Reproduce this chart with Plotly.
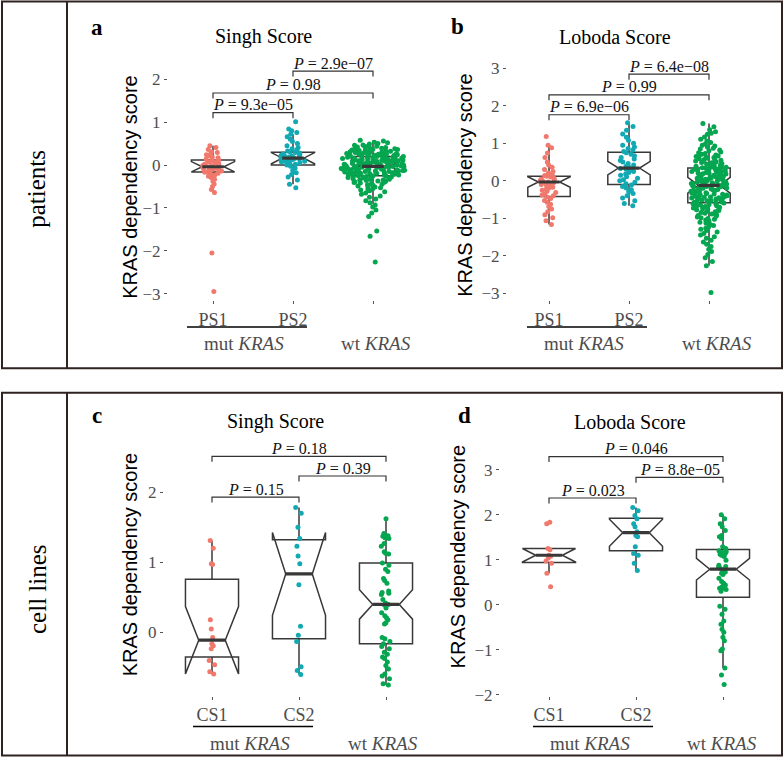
import plotly.graph_objects as go

W, H = 784, 767

# ---------------- text / categories ----------------
cats_patients = ["PS1", "PS2", ""]
cats_cells = ["CS1", "CS2", ""]
group_mut = "mut <i>KRAS</i>"
group_wt = "wt <i>KRAS</i>"
titles = ["Singh Score", "Loboda Score", "Singh Score", "Loboda Score"]
letters = ["a", "b", "c", "d"]
row_labels = ["patients", "cell lines"]
y_title = "KRAS dependency score"

# ---------------- point data ----------------
ps1_singh = [0.45, 0.41, 0.36, 0.31, 0.29, 0.26, 0.24, 0.21, 0.19, 0.17, 0.14, 0.12, 0.11, 0.09,
             0.08, 0.06, 0.05, 0.03, 0.02, 0.01, -0.01, -0.02, -0.03, -0.04, -0.05, -0.05, -0.06,
             -0.07, -0.08, -0.09, -0.10, -0.11, -0.12, -0.13, -0.14, -0.16, -0.17, -0.19, -0.21,
             -0.23, -0.26, -0.29, -0.33, -0.38, -0.44, -0.50, -0.57, -0.64, -2.05, -2.95]
ps2_singh = [1.01, 0.84, 0.80, 0.76, 0.72, 0.66, 0.60, 0.55, 0.50, 0.45, 0.41, 0.38, 0.35, 0.33,
             0.31, 0.29, 0.28, 0.26, 0.25, 0.23, 0.22, 0.21, 0.20, 0.19, 0.18, 0.17, 0.16, 0.15,
             0.14, 0.13, 0.12, 0.11, 0.10, 0.09, 0.08, 0.07, 0.05, 0.04, 0.02, 0.00, -0.03, -0.07,
             -0.12, -0.18, -0.22, -0.28, -0.35, -0.45, -0.53]
wt_singh = [0.58, 0.56, 0.53, 0.52, 0.50, 0.49, 0.47, 0.46, 0.45, 0.44, 0.43, 0.42, 0.41, 0.40,
            0.39, 0.38, 0.38, 0.37, 0.36, 0.35, 0.35, 0.34, 0.33, 0.33, 0.32, 0.31, 0.31, 0.30,
            0.29, 0.29, 0.28, 0.28, 0.27, 0.27, 0.26, 0.26, 0.25, 0.25, 0.24, 0.24, 0.23, 0.23,
            0.22, 0.22, 0.21, 0.21, 0.20, 0.20, 0.19, 0.19, 0.19, 0.18, 0.18, 0.17, 0.17, 0.16,
            0.16, 0.16, 0.15, 0.15, 0.14, 0.14, 0.13, 0.13, 0.13, 0.12, 0.12, 0.11, 0.11, 0.11,
            0.10, 0.10, 0.09, 0.09, 0.09, 0.08, 0.08, 0.08, 0.07, 0.07, 0.06, 0.06, 0.06, 0.05,
            0.05, 0.05, 0.04, 0.04, 0.04, 0.03, 0.03, 0.02, 0.02, 0.02, 0.01, 0.01, 0.00, 0.00,
            -0.01, -0.01, -0.01, -0.02, -0.02, -0.03, -0.03, -0.03, -0.04, -0.04, -0.05, -0.05,
            -0.05, -0.06, -0.06, -0.07, -0.07, -0.07, -0.08, -0.08, -0.08, -0.09, -0.09, -0.10,
            -0.10, -0.10, -0.11, -0.11, -0.12, -0.12, -0.13, -0.13, -0.14, -0.14, -0.15, -0.15,
            -0.16, -0.16, -0.17, -0.17, -0.18, -0.18, -0.19, -0.19, -0.20, -0.20, -0.21, -0.21,
            -0.22, -0.23, -0.23, -0.24, -0.25, -0.25, -0.26, -0.27, -0.27, -0.28, -0.28, -0.29,
            -0.30, -0.30, -0.31, -0.32, -0.33, -0.34, -0.35, -0.35, -0.36, -0.37, -0.38, -0.39,
            -0.40, -0.41, -0.42, -0.44, -0.45, -0.46, -0.47, -0.49, -0.50, -0.51, -0.53, -0.55,
            -0.56, -0.58, -0.60, -0.62, -0.65, -0.68, -0.72, -0.75, -0.79, -0.83, -0.88, -0.93,
            -0.98, -1.05, -1.12, -1.20, -1.54, -1.66, -2.26]

ps1_loboda = [1.18, 0.95, 0.88, 0.74, 0.62, 0.50, 0.42, 0.36, 0.30, 0.25, 0.21, 0.17, 0.14, 0.12,
              0.10, 0.07, 0.05, 0.03, 0.01, -0.01, -0.03, -0.05, -0.06, -0.08, -0.10, -0.12,
              -0.14, -0.17, -0.19, -0.22, -0.25, -0.28, -0.31, -0.35, -0.38, -0.40, -0.43, -0.47,
              -0.52, -0.57, -0.62, -0.68, -0.75, -0.82, -0.90, -0.98, -1.06, -1.16]
ps2_loboda = [1.55, 1.45, 1.35, 1.25, 1.16, 1.08, 1.00, 0.95, 0.90, 0.86, 0.82, 0.78, 0.75, 0.71,
              0.67, 0.62, 0.58, 0.54, 0.50, 0.46, 0.42, 0.39, 0.36, 0.33, 0.31, 0.28, 0.25, 0.22,
              0.18, 0.15, 0.11, 0.07, 0.03, 0.00, -0.04, -0.08, -0.11, -0.15, -0.19, -0.24, -0.29,
              -0.34, -0.40, -0.46, -0.53, -0.60, -0.66]
wt_loboda = [1.53, 1.44, 1.36, 1.31, 1.27, 1.24, 1.17, 1.11, 1.06, 1.02, 0.98, 0.95, 0.93, 0.90,
             0.87, 0.85, 0.82, 0.80, 0.77, 0.75, 0.73, 0.71, 0.69, 0.68, 0.66, 0.65, 0.63, 0.62,
             0.60, 0.59, 0.57, 0.56, 0.55, 0.53, 0.52, 0.50, 0.49, 0.48, 0.46, 0.45, 0.44, 0.43,
             0.41, 0.40, 0.39, 0.38, 0.37, 0.36, 0.35, 0.34, 0.33, 0.32, 0.31, 0.30, 0.29, 0.28,
             0.27, 0.26, 0.25, 0.24, 0.23, 0.22, 0.21, 0.20, 0.19, 0.18, 0.17, 0.16, 0.15, 0.14,
             0.13, 0.12, 0.11, 0.10, 0.09, 0.08, 0.07, 0.07, 0.06, 0.05, 0.04, 0.03, 0.03, 0.02,
             0.01, 0.00, -0.01, -0.02, -0.03, -0.03, -0.04, -0.05, -0.06, -0.07, -0.08, -0.08,
             -0.09, -0.10, -0.11, -0.12, -0.13, -0.14, -0.15, -0.15, -0.16, -0.17, -0.18, -0.19,
             -0.20, -0.21, -0.22, -0.23, -0.24, -0.25, -0.26, -0.27, -0.28, -0.29, -0.30, -0.31,
             -0.32, -0.33, -0.34, -0.35, -0.36, -0.37, -0.38, -0.39, -0.40, -0.41, -0.42, -0.43,
             -0.44, -0.45, -0.46, -0.46, -0.47, -0.48, -0.49, -0.50, -0.51, -0.52, -0.53, -0.55,
             -0.56, -0.57, -0.58, -0.59, -0.61, -0.62, -0.63, -0.64, -0.66, -0.67, -0.68, -0.70,
             -0.71, -0.72, -0.74, -0.75, -0.76, -0.77, -0.79, -0.80, -0.82, -0.84, -0.86, -0.88,
             -0.90, -0.92, -0.94, -0.96, -0.98, -1.00, -1.02, -1.04, -1.07, -1.10, -1.13, -1.16,
             -1.19, -1.22, -1.26, -1.29, -1.32, -1.36, -1.40, -1.44, -1.49, -1.53, -1.58, -1.63,
             -1.69, -1.75, -1.82, -1.88, -1.96, -2.05, -2.15, -2.26, -2.97]

cs1_singh = [1.31, 1.20, 0.98, 0.97, 0.18, 0.05, -0.07, -0.16, -0.19, -0.23, -0.40, -0.46, -0.56, -0.59]
cs2_singh = [1.78, 1.70, 1.50, 1.34, 1.23, 1.09, 0.98, 0.68, 0.09, -0.04, -0.13, -0.49, -0.54, -0.60]
wt_cells_singh = [1.62, 1.41, 1.38, 1.37, 1.35, 1.34, 1.27, 1.23, 1.15, 1.13, 1.12, 0.99, 0.96, 0.90,
                  0.87, 0.77, 0.74, 0.70, 0.59, 0.57, 0.56, 0.54, 0.47, 0.42, 0.40, 0.39, 0.35, 0.28,
                  0.24, 0.21, 0.18, 0.14, 0.12, -0.07, -0.09, -0.13, -0.16, -0.20, -0.23, -0.28,
                  -0.31, -0.35, -0.37, -0.42, -0.47, -0.52, -0.59, -0.62, -0.66, -0.73, -0.75]

cs1_loboda = [1.83, 1.80, 1.25, 1.22, 1.10, 1.08, 1.04, 0.97, 0.92, 0.70, 0.40]
cs2_loboda = [2.16, 2.09, 1.98, 1.91, 1.80, 1.73, 1.62, 1.54, 1.51, 1.29, 1.14, 1.10, 0.92, 0.76]
wt_cells_loboda = [2.00, 1.91, 1.80, 1.73, 1.65, 1.54, 1.51, 1.47, 1.29, 1.25, 1.20, 1.18, 1.16, 1.14,
                   1.12, 1.10, 1.07, 0.99, 0.88, 0.85, 0.83, 0.81, 0.78, 0.73, 0.70, 0.67, 0.59, 0.52,
                   0.48, 0.44, 0.41, 0.39, 0.37, 0.36, 0.34, 0.30, -0.03, -0.10, -0.21, -0.36, -0.43,
                   -0.54, -0.61, -0.72, -0.80, -0.98, -1.02, -1.40, -1.56, -1.77]

# ---------------- box statistics ----------------
# order: [group1, group2, wt]
q1_a = [-0.16, 0.00, -0.25];  med_a = [-0.04, 0.16, -0.03];  q3_a = [0.12, 0.30, 0.20]
lo_a = [-0.60, -0.45, -0.90]; hi_a = [0.45, 0.72, 0.58];     notch_a = [0.12, 0.13, 0.04]

q1_b = [-0.42, -0.10, -0.58]; med_b = [-0.03, 0.34, -0.12];  q3_b = [0.12, 0.76, 0.34]
lo_b = [-1.16, -0.66, -2.26]; hi_b = [0.95, 1.55, 1.53];     notch_b = [0.14, 0.18, 0.21]

q1_c = [-0.35, -0.09, -0.16]; med_c = [-0.11, 0.835, 0.40];  q3_c = [0.76, 1.32, 0.99]
lo_c = [-0.59, -0.60, -0.75]; hi_c = [1.31, 1.78, 1.62];     notch_c = [0.48, 0.59, 0.21]

q1_d = [0.94, 1.20, 0.17];    med_d = [1.10, 1.60, 0.79];    q3_d = [1.25, 1.92, 1.23]
lo_d = [0.70, 0.76, -1.40];   hi_d = [1.25, 2.16, 2.00];     notch_d = [0.15, 0.30, 0.24]

# ---------------- significance brackets ----------------
pairs = [(0, 1), (0, 2), (1, 2)]
pvals_a = ["9.3e\u221205", "0.98", "2.9e\u221207"]; levels_a = [1.22, 1.68, 2.19]
pvals_b = ["6.9e\u221206", "0.99", "6.4e\u221208"]; levels_b = [1.76, 2.29, 2.84]
pvals_c = ["0.15", "0.18", "0.39"];                levels_c = [1.93, 2.51, 2.23]
pvals_d = ["0.023", "0.046", "8.8e\u221205"];       levels_d = [2.37, 3.29, 2.83]

# ---------------- style ----------------
COLORS = ["#F1786C", "#12A9B3", "#04A64F"]
BOXC = "#383838"
GREY = "#4d4d4d"
FRAME = "#2f2220"
SERIF = "Liberation Serif, Times New Roman, serif"
SANS = "Liberation Sans, Arial, sans-serif"


def PX(x):
    return x / W


def PY(y):
    return 1 - y / H


def paper_text(x, y, text, font, angle=0):
    return dict(x=PX(x), y=PY(y), xref="paper", yref="paper", xanchor="center",
                yanchor="middle", showarrow=False, text=text, textangle=angle, font=font)


panels = [
    dict(cats=cats_patients, groups=[ps1_singh, ps2_singh, wt_singh],
         stats=(q1_a, med_a, q3_a, lo_a, hi_a, notch_a), pv=pvals_a, lv=levels_a,
         cat0=213, sp=80, zero=167, scale=43.4, dx=(168, 430), dy=(56, 304), bw=0.54,
         pw=[0.30, 0.36, 0.80], jit=[1.0, 1.0, 1.0],
         letter=(97, 28), title=(263, 37), ytitle=(130, 190), mut=(244, 348), wt=(376, 348),
         uline=(187, 307, 331)),
    dict(cats=cats_patients, groups=[ps1_loboda, ps2_loboda, wt_loboda],
         stats=(q1_b, med_b, q3_b, lo_b, hi_b, notch_b), pv=pvals_b, lv=levels_b,
         cat0=549, sp=80, zero=183, scale=38.0, dx=(507, 770), dy=(56, 304), bw=0.53,
         pw=[0.24, 0.26, 0.46], jit=[1.0, 1.0, 1.0],
         letter=(458, 27), title=(615, 37), ytitle=(465, 188), mut=(584, 348), wt=(717, 348),
         uline=(527, 647, 331)),
    dict(cats=cats_cells, groups=[cs1_singh, cs2_singh, wt_cells_singh],
         stats=(q1_c, med_c, q3_c, lo_c, hi_c, notch_c), pv=pvals_c, lv=levels_c,
         cat0=212, sp=87, zero=640, scale=71.0, dx=(164, 440), dy=(455, 704), bw=0.61,
         pw=[0.08, 0.08, 0.12], jit=[1.0, 1.0, 1.0],
         letter=(97, 420), title=(275, 427), ytitle=(130, 572), mut=(250, 752), wt=(383, 752),
         uline=(193, 313, 735)),
    dict(cats=cats_cells, groups=[cs1_loboda, cs2_loboda, wt_cells_loboda],
         stats=(q1_d, med_d, q3_d, lo_d, hi_d, notch_d), pv=pvals_d, lv=levels_d,
         cat0=549, sp=87, zero=612, scale=45.6, dx=(500, 775), dy=(455, 704), bw=0.61,
         pw=[0.08, 0.08, 0.12], jit=[1.0, 1.0, 1.0],
         letter=(464, 420), title=(630, 427), ytitle=(458, 563), mut=(590, 752), wt=(722, 752),
         uline=(533, 653, 735)),
]

fig = go.Figure()
layout = dict(width=W, height=H, margin=dict(l=0, r=0, t=0, b=0),
              paper_bgcolor="white", plot_bgcolor="white", showlegend=False,
              boxmode="overlay")
shapes = []
annotations = []

positions = [0, 1, 2]

for k, p in enumerate(panels, start=1):
    xs = "x" if k == 1 else f"x{k}"
    ys = "y" if k == 1 else f"y{k}"
    xa = "xaxis" if k == 1 else f"xaxis{k}"
    ya = "yaxis" if k == 1 else f"yaxis{k}"

    x0px, x1px = p["dx"]
    y0px, y1px = p["dy"]
    xr = [(x0px - p["cat0"]) / p["sp"], (x1px - p["cat0"]) / p["sp"]]
    yr = [(p["zero"] - y1px) / p["scale"], (p["zero"] - y0px) / p["scale"]]

    layout[xa] = dict(domain=[PX(x0px), PX(x1px)], range=xr, type="linear",
                      tickvals=positions, ticktext=p["cats"], ticks="outside", ticklen=3,
                      tickwidth=1, tickcolor="#555555", showgrid=False, zeroline=False,
                      showline=False, anchor=ys, fixedrange=True,
                      tickfont=dict(family=SERIF, size=18, color=GREY))
    layout[ya] = dict(domain=[PY(y1px), PY(y0px)], range=yr, dtick=1, tick0=0,
                      ticks="outside", ticklen=3, tickwidth=1, tickcolor="#555555",
                      showgrid=False, zeroline=False, showline=False, anchor=xs,
                      fixedrange=True, tickfont=dict(family=SERIF, size=17, color=GREY))

    q1, med, q3, lo, hi, ns = p["stats"]
    bw = p["bw"]
    # notched boxes
    fig.add_trace(go.Box(x=positions, q1=q1, median=med, q3=q3, lowerfence=lo, upperfence=hi,
                         notchspan=ns, notched=True, notchwidth=0.25, width=bw, whiskerwidth=0,
                         orientation="v", boxpoints=False,
                         line=dict(color=BOXC, width=1.5), fillcolor="rgba(255,255,255,0)",
                         xaxis=xs, yaxis=ys, hoverinfo="skip"))
    # thick median segments
    mx, my = [], []
    for pos, m in zip(positions, med):
        mx += [pos - bw / 4, pos + bw / 4, None]
        my += [m, m, None]
    fig.add_trace(go.Scatter(x=mx, y=my, mode="lines", line=dict(color=BOXC, width=3.2),
                             xaxis=xs, yaxis=ys, hoverinfo="skip"))
    # points (density-scaled jitter)
    for g, (vals, col) in enumerate(zip(p["groups"], COLORS)):
        fig.add_trace(go.Box(y=vals, x0=positions[g], boxpoints="all", jitter=p["jit"][g],
                             pointpos=0, width=p["pw"][g], whiskerwidth=0,
                             marker=dict(color=col, size=5, line=dict(width=0)),
                             line=dict(width=0, color="rgba(0,0,0,0)"),
                             fillcolor="rgba(0,0,0,0)", xaxis=xs, yaxis=ys,
                             hoverinfo="y"))

    # brackets + p values
    tip = 5.5 / p["scale"]
    for (a, b), lvl, txt in zip(pairs, p["lv"], p["pv"]):
        shapes.append(dict(type="path", xref=xs, yref=ys,
                           path=f"M {a},{lvl - tip} L {a},{lvl} L {b},{lvl} L {b},{lvl - tip}",
                           line=dict(color="#333333", width=1.2)))
        annotations.append(dict(x=(a + b) / 2, y=lvl, xref=xs, yref=ys, xanchor="center",
                                yanchor="middle", yshift=8, showarrow=False,
                                text=f"<i>P</i> = {txt}",
                                font=dict(family=SERIF, size=16, color="#111111")))

    annotations.append(paper_text(*p["letter"], f"<b>{letters[k-1]}</b>",
                                  dict(family=SERIF, size=23, color="black")))
    annotations.append(paper_text(*p["title"], titles[k - 1],
                                  dict(family=SERIF, size=20, color="black")))
    annotations.append(paper_text(*p["ytitle"], y_title,
                                  dict(family=SANS, size=20, color="black"), angle=-90))
    annotations.append(paper_text(*p["mut"], group_mut, dict(family=SERIF, size=19, color=GREY)))
    annotations.append(paper_text(*p["wt"], group_wt, dict(family=SERIF, size=19, color=GREY)))
    ux0, ux1, uy = p["uline"]
    shapes.append(dict(type="line", xref="paper", yref="paper", x0=PX(ux0), x1=PX(ux1),
                       y0=PY(uy), y1=PY(uy), line=dict(color="black", width=1.5)))

# row labels
annotations.append(paper_text(37, 191, row_labels[0], dict(family=SERIF, size=25, color="black"),
                              angle=-90))
annotations.append(paper_text(37, 596, row_labels[1], dict(family=SERIF, size=25, color="black"),
                              angle=-90))

# frames
for (top, bot) in [(1.5, 372.5), (397.5, 764.5)]:
    shapes.append(dict(type="rect", xref="paper", yref="paper", x0=PX(2), x1=PX(782),
                       y0=PY(bot), y1=PY(top), line=dict(color=FRAME, width=2),
                       fillcolor="rgba(0,0,0,0)", layer="above"))
    shapes.append(dict(type="line", xref="paper", yref="paper", x0=PX(67), x1=PX(67),
                       y0=PY(bot), y1=PY(top), line=dict(color=FRAME, width=2)))

layout["shapes"] = shapes
layout["annotations"] = annotations
fig.update_layout(**layout)

fig.write_html("out.html", config={"displayModeBar": False},
               post_script="document.body.style.margin='0';document.body.style.overflow='hidden';")
